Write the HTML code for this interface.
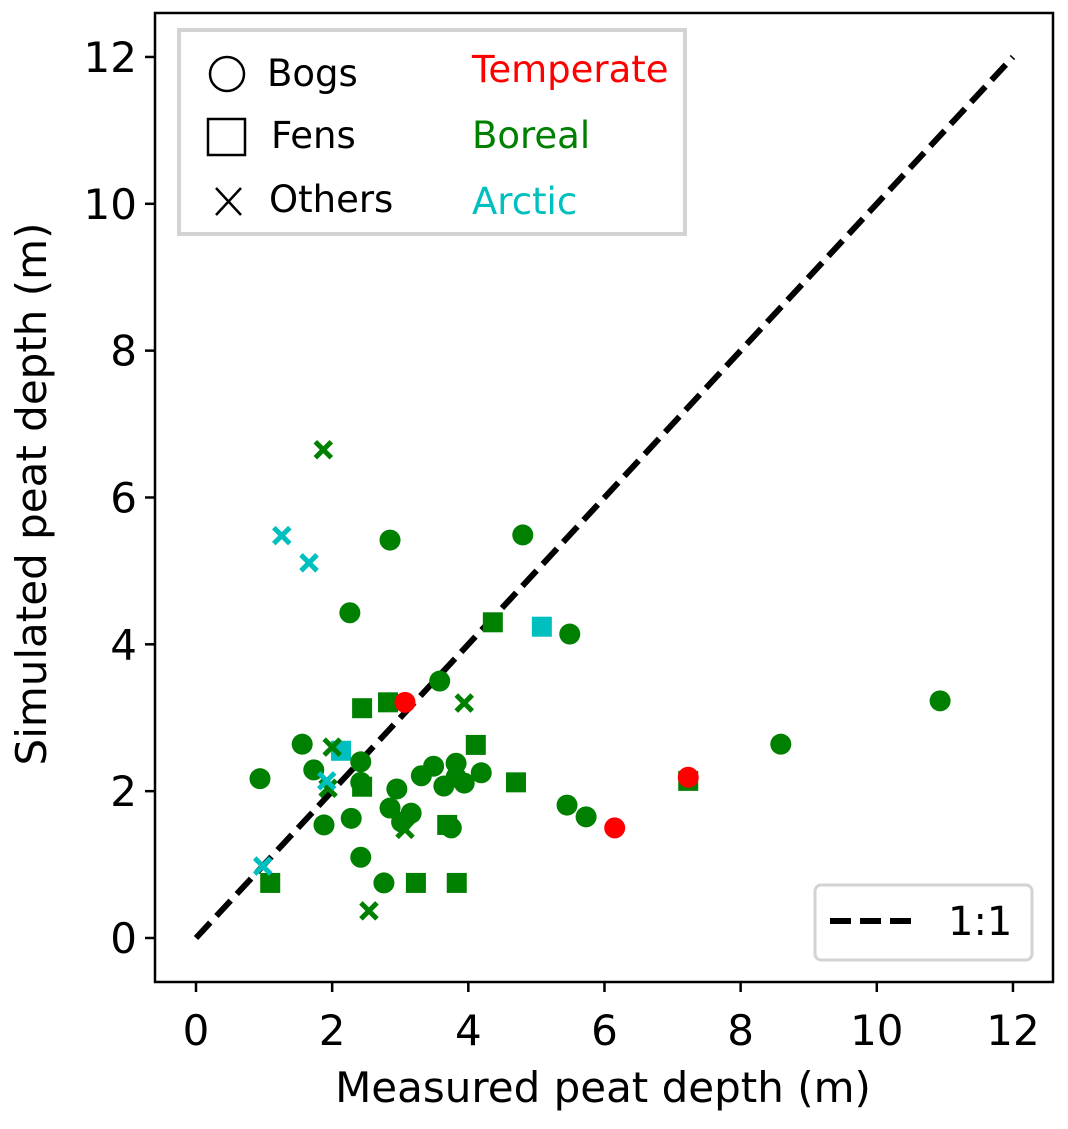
<!DOCTYPE html>
<html><head><meta charset="utf-8"><style>
body{margin:0;background:#fff}
svg text{font-family:"DejaVu Sans","Liberation Sans",sans-serif}
</style></head><body>
<svg id="chart" width="1068" height="1124" viewBox="0 0 1068 1124" xmlns="http://www.w3.org/2000/svg">
<rect x="0" y="0" width="1068" height="1124" fill="#fff"/>
<g id="ticks"></g>
<line id="oneone" stroke="#000" stroke-width="6" stroke-dasharray="21,9"/>
<g id="marks"></g>
<rect x="155" y="13" width="898" height="969" fill="none" stroke="#000" stroke-width="2.5"/>
<g>
<rect x="179" y="30" width="506" height="204" fill="#fff" stroke="#d3d3d3" stroke-width="4"/>
<circle cx="227" cy="74" r="17" fill="none" stroke="#000" stroke-width="2.5"/>
<text x="267" y="86" font-size="37">Bogs</text>
<rect x="208" y="119" width="37" height="36" fill="none" stroke="#000" stroke-width="2.5"/>
<text x="271" y="148" font-size="37">Fens</text>
<path d="M216 188L241 215M241 188L216 215" stroke="#000" stroke-width="2.5"/>
<text x="269" y="212" font-size="37">Others</text>
<text x="472" y="82" font-size="37" fill="#ff0000">Temperate</text>
<text x="472" y="148" font-size="37" fill="#008000">Boreal</text>
<text x="472" y="214" font-size="37" fill="#00bfbf">Arctic</text>
</g>
<g>
<rect x="815" y="885" width="217" height="75" rx="6" fill="#fff" stroke="#d3d3d3" stroke-width="3"/>
<line x1="830" y1="921" x2="916" y2="921" stroke="#000" stroke-width="6" stroke-dasharray="21,9"/>
<text x="948" y="935" font-size="40">1:1</text>
</g>
<text x="603" y="1102" font-size="42" text-anchor="middle">Measured peat depth (m)</text>
<text transform="translate(46,494) rotate(-90)" font-size="42" text-anchor="middle">Simulated peat depth (m)</text>
</svg>
<script>
const xTicks=[0,2,4,6,8,10,12];
const yTicks=[0,2,4,6,8,10,12];
const circX=[0.94,1.56,1.73,1.88,2.26,2.28,2.42,2.42,2.42,2.76,2.85,2.85,2.95,3.02,3.16,3.31,3.49,3.58,3.64,3.75,3.82,3.82,3.94,4.19,4.80,5.49,5.45,5.73,8.59,10.93];
const circY=[2.17,2.64,2.29,1.54,4.43,1.63,2.40,2.12,1.10,0.75,5.42,1.77,2.03,1.58,1.70,2.21,2.34,3.50,2.07,1.50,2.38,2.19,2.11,2.25,5.49,4.14,1.81,1.65,2.64,3.23];
const circRed=[3.07,6.15,7.23];
const circRedY=[3.21,1.50,2.19];
const sqX=[1.09,2.44,2.82,2.44,4.11,4.36,4.70,3.69,3.23,3.83,7.23];
const sqY=[0.75,3.13,3.21,2.06,2.63,4.30,2.12,1.54,0.75,0.75,2.14];
const sqCyanX=[2.13,5.08];
const sqCyanY=[2.55,4.24];
const xGreenX=[1.87,3.94,2.00,1.94,3.07,2.54];
const xGreenY=[6.65,3.20,2.60,2.04,1.48,0.37];
const xCyanX=[1.26,1.66,1.92,0.98];
const xCyanY=[5.48,5.11,2.14,0.98];
const NS="http://www.w3.org/2000/svg";
const sx=v=>196+v*68.08, sy=v=>938-v*73.42;
const G="#008000",R="#ff0000",C="#00bfbf";
const ticks=document.getElementById('ticks'), marks=document.getElementById('marks');
function mk(tag,attrs,parent){const e=document.createElementNS(NS,tag);for(const k in attrs)e.setAttribute(k,attrs[k]);parent.appendChild(e);return e;}
xTicks.forEach(t=>{
 const l=mk('line',{x1:sx(t),x2:sx(t),y1:982,y2:992,stroke:'#000','stroke-width':2.5},ticks);
 
 
 const tx=mk('text',{x:sx(t),y:1045,'font-size':42,'text-anchor':'middle'},ticks);tx.textContent=t;
 
 
});
yTicks.forEach(t=>{
 const l=mk('line',{x1:145,x2:155,y1:sy(t),y2:sy(t),stroke:'#000','stroke-width':2.5},ticks);
 
 
 const tx=mk('text',{x:137,y:sy(t)+15,'font-size':42,'text-anchor':'end'},ticks);tx.textContent=t;
 
 
});
const ln=document.getElementById('oneone');
ln.setAttribute('x1',sx(0));ln.setAttribute('y1',sy(0));ln.setAttribute('x2',sx(12));ln.setAttribute('y2',sy(12));
function circles(xs,ys,col,name){xs.forEach((v,i)=>{const e=mk('circle',{cx:sx(v),cy:sy(ys[i]),r:10.5,fill:col},marks);
 
 });}
function squares(xs,ys,col,name){xs.forEach((v,i)=>{const e=mk('rect',{x:sx(v)-10,y:sy(ys[i])-10,width:20,height:20,fill:col},marks);
 
 });}
function crosses(xs,ys,col,name){xs.forEach((v,i)=>{const x=sx(v),y=sy(ys[i]),d=8;const e=mk('path',{d:`M${x-d} ${y-d}L${x+d} ${y+d}M${x+d} ${y-d}L${x-d} ${y+d}`,stroke:col,'stroke-width':5},marks);
 
 });}
squares(sqX,sqY,G,'boreal-fen-point');
squares(sqCyanX,sqCyanY,C,'arctic-fen-point');
circles(circX,circY,G,'boreal-bog-point');
circles(circRed,circRedY,R,'temperate-bog-point');
crosses(xGreenX,xGreenY,G,'boreal-other-point');
crosses(xCyanX,xCyanY,C,'arctic-other-point');
</script>
</body></html>
